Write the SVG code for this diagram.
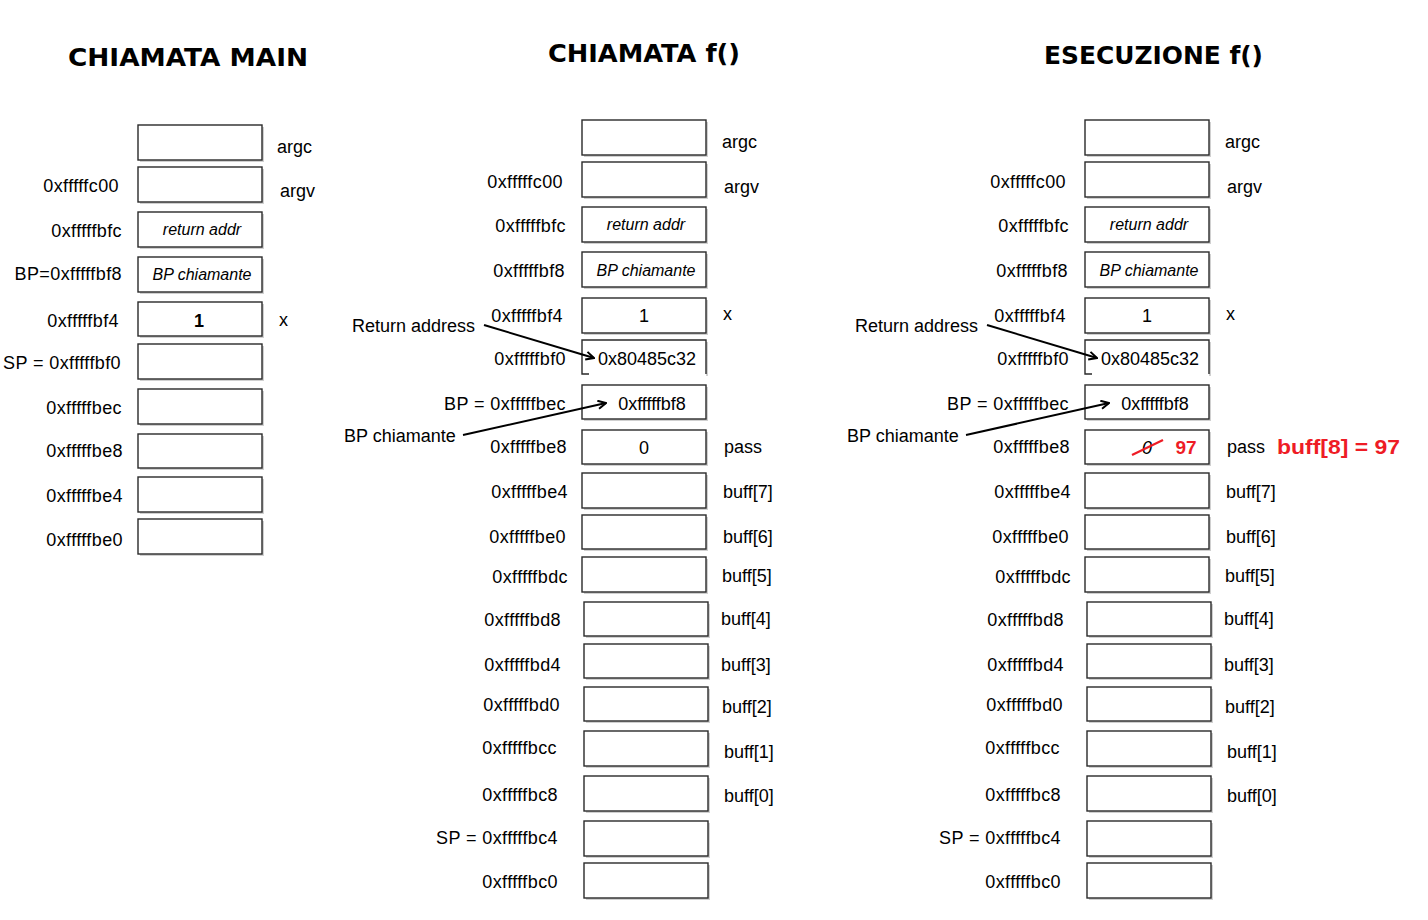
<svg xmlns="http://www.w3.org/2000/svg" width="1428" height="920" viewBox="0 0 1428 920">
<style>
text{font-family:"Liberation Sans",Arial,sans-serif;fill:#000}
.t{font-family:"DejaVu Sans","Liberation Sans",sans-serif;font-weight:bold;font-size:24px}
.a{font-size:18px;text-anchor:end;letter-spacing:0.4px}
.n{font-size:18px}
.v{font-size:18px;text-anchor:middle}
.it{font-size:16px;font-style:italic;text-anchor:middle}
.sh{fill:#d0d0d0}
.bx{fill:#fff;stroke:#2a2a2a;stroke-width:1.4}
.red{fill:#ee1c25;font-weight:bold}
.ar{fill:none;stroke:#000;stroke-width:2}
</style>
<defs>
<marker id="ah" viewBox="0 0 10 10" refX="9" refY="5" markerWidth="10" markerHeight="10" markerUnits="userSpaceOnUse" orient="auto">
<path d="M1,1 L9,5 L1,9" fill="none" stroke="#000" stroke-width="2"/>
</marker>
</defs>
<rect width="1428" height="920" fill="#fff"/>

<!-- titles -->
<text class="t" x="68" y="66" textLength="240" lengthAdjust="spacingAndGlyphs">CHIAMATA MAIN</text>
<text class="t" x="548" y="62" textLength="192" lengthAdjust="spacingAndGlyphs">CHIAMATA f()</text>
<text class="t" x="1044" y="64" textLength="219" lengthAdjust="spacingAndGlyphs">ESECUZIONE f()</text>

<!-- LEFT COLUMN: CHIAMATA MAIN -->
<g id="main-argc"><rect class="sh" x="140" y="127" width="124" height="35"/><rect class="bx" x="138" y="125" width="124" height="35"/><text class="n" x="277" y="153">argc</text></g>
<g id="main-argv"><rect class="sh" x="140" y="169" width="124" height="35"/><rect class="bx" x="138" y="167" width="124" height="35"/><text class="a" x="119" y="192">0xfffffc00</text><text class="n" x="280" y="197">argv</text></g>
<g id="main-ret"><rect class="sh" x="140" y="214" width="124" height="35"/><rect class="bx" x="138" y="212" width="124" height="35"/><text class="a" x="122" y="237">0xfffffbfc</text><text class="it" x="202" y="235">return addr</text></g>
<g id="main-bp"><rect class="sh" x="140" y="259" width="124" height="35"/><rect class="bx" x="138" y="257" width="124" height="35"/><text class="a" x="122" y="280">BP=0xfffffbf8</text><text class="it" x="202" y="280">BP chiamante</text></g>
<g id="main-x"><rect class="sh" x="140" y="304" width="124" height="34"/><rect class="bx" x="138" y="302" width="124" height="34"/><text class="a" x="119" y="327">0xfffffbf4</text><text class="v" x="199" y="327" style="font-weight:bold">1</text><text class="n" x="279" y="326">x</text></g>
<g id="main-sp"><rect class="sh" x="140" y="346" width="124" height="35"/><rect class="bx" x="138" y="344" width="124" height="35"/><text class="a" x="121" y="369">SP = 0xfffffbf0</text></g>
<g id="main-bec"><rect class="sh" x="140" y="391" width="124" height="35"/><rect class="bx" x="138" y="389" width="124" height="35"/><text class="a" x="122" y="414">0xfffffbec</text></g>
<g id="main-be8"><rect class="sh" x="140" y="436" width="124" height="34"/><rect class="bx" x="138" y="434" width="124" height="34"/><text class="a" x="123" y="457">0xfffffbe8</text></g>
<g id="main-be4"><rect class="sh" x="140" y="479" width="124" height="35"/><rect class="bx" x="138" y="477" width="124" height="35"/><text class="a" x="123" y="502">0xfffffbe4</text></g>
<g id="main-be0"><rect class="sh" x="140" y="521" width="124" height="35"/><rect class="bx" x="138" y="519" width="124" height="35"/><text class="a" x="123" y="546">0xfffffbe0</text></g>

<!-- MIDDLE COLUMN: CHIAMATA f() -->
<g id="f-argc"><rect class="sh" x="584" y="122" width="124" height="35"/><rect class="bx" x="582" y="120" width="124" height="35"/><text class="n" x="722" y="148">argc</text></g>
<g id="f-argv"><rect class="sh" x="584" y="164" width="124" height="35"/><rect class="bx" x="582" y="162" width="124" height="35"/><text class="a" x="563" y="188">0xfffffc00</text><text class="n" x="724" y="193">argv</text></g>
<g id="f-ret"><rect class="sh" x="584" y="209" width="124" height="35"/><rect class="bx" x="582" y="207" width="124" height="35"/><text class="a" x="566" y="232">0xfffffbfc</text><text class="it" x="646" y="230">return addr</text></g>
<g id="f-bp"><rect class="sh" x="584" y="254" width="124" height="35"/><rect class="bx" x="582" y="252" width="124" height="35"/><text class="a" x="565" y="277">0xfffffbf8</text><text class="it" x="646" y="276">BP chiamante</text></g>
<g id="f-x"><rect class="sh" x="584" y="300" width="124" height="35"/><rect class="bx" x="582" y="298" width="124" height="35"/><text class="a" x="563" y="322">0xfffffbf4</text><text class="v" x="644" y="322">1</text><text class="n" x="723" y="320">x</text></g>
<g id="f-ra"><rect class="sh" x="706" y="342" width="2" height="34"/><path d="M589,374 H582 V340 H706 V374" fill="none" stroke="#2a2a2a" stroke-width="1.4"/><text class="a" x="566" y="365">0xfffffbf0</text><text class="v" x="647" y="365">0x80485c32</text></g>
<g id="f-bec"><rect class="sh" x="584" y="387" width="124" height="34"/><rect class="bx" x="582" y="385" width="124" height="34"/><text class="a" x="566" y="410">BP = 0xfffffbec</text><text class="v" x="652" y="410">0xfffffbf8</text></g>
<g id="f-be8"><rect class="sh" x="584" y="432" width="124" height="34"/><rect class="bx" x="582" y="430" width="124" height="34"/><text class="a" x="567" y="453">0xfffffbe8</text><text class="v" x="644" y="454">0</text><text class="n" x="724" y="453">pass</text></g>
<g id="f-be4"><rect class="sh" x="584" y="475" width="124" height="35"/><rect class="bx" x="582" y="473" width="124" height="35"/><text class="a" x="568" y="498">0xfffffbe4</text><text class="n" x="723" y="498">buff[7]</text></g>
<g id="f-be0"><rect class="sh" x="584" y="517" width="124" height="34"/><rect class="bx" x="582" y="515" width="124" height="34"/><text class="a" x="566" y="543">0xfffffbe0</text><text class="n" x="723" y="543">buff[6]</text></g>
<g id="f-bdc"><rect class="sh" x="584" y="559" width="124" height="35"/><rect class="bx" x="582" y="557" width="124" height="35"/><text class="a" x="568" y="583">0xfffffbdc</text><text class="n" x="722" y="582">buff[5]</text></g>
<g id="f-bd8"><rect class="sh" x="586" y="604" width="124" height="34"/><rect class="bx" x="584" y="602" width="124" height="34"/><text class="a" x="561" y="626">0xfffffbd8</text><text class="n" x="721" y="625">buff[4]</text></g>
<g id="f-bd4"><rect class="sh" x="586" y="646" width="124" height="34"/><rect class="bx" x="584" y="644" width="124" height="34"/><text class="a" x="561" y="671">0xfffffbd4</text><text class="n" x="721" y="671">buff[3]</text></g>
<g id="f-bd0"><rect class="sh" x="586" y="689" width="124" height="34"/><rect class="bx" x="584" y="687" width="124" height="34"/><text class="a" x="560" y="711">0xfffffbd0</text><text class="n" x="722" y="713">buff[2]</text></g>
<g id="f-bcc"><rect class="sh" x="586" y="733" width="124" height="35"/><rect class="bx" x="584" y="731" width="124" height="35"/><text class="a" x="557" y="754">0xfffffbcc</text><text class="n" x="724" y="758">buff[1]</text></g>
<g id="f-bc8"><rect class="sh" x="586" y="778" width="124" height="35"/><rect class="bx" x="584" y="776" width="124" height="35"/><text class="a" x="558" y="801">0xfffffbc8</text><text class="n" x="724" y="802">buff[0]</text></g>
<g id="f-bc4"><rect class="sh" x="586" y="823" width="124" height="35"/><rect class="bx" x="584" y="821" width="124" height="35"/><text class="a" x="558" y="844">SP = 0xfffffbc4</text></g>
<g id="f-bc0"><rect class="sh" x="586" y="865" width="124" height="35"/><rect class="bx" x="584" y="863" width="124" height="35"/><text class="a" x="558" y="888">0xfffffbc0</text></g>
<g id="f-notes"><text class="n" x="352" y="332">Return address</text><text class="n" x="344" y="442">BP chiamante</text></g>

<!-- RIGHT COLUMN: ESECUZIONE f() -->
<g id="e-argc"><rect class="sh" x="1087" y="122" width="124" height="35"/><rect class="bx" x="1085" y="120" width="124" height="35"/><text class="n" x="1225" y="148">argc</text></g>
<g id="e-argv"><rect class="sh" x="1087" y="164" width="124" height="35"/><rect class="bx" x="1085" y="162" width="124" height="35"/><text class="a" x="1066" y="188">0xfffffc00</text><text class="n" x="1227" y="193">argv</text></g>
<g id="e-ret"><rect class="sh" x="1087" y="209" width="124" height="35"/><rect class="bx" x="1085" y="207" width="124" height="35"/><text class="a" x="1069" y="232">0xfffffbfc</text><text class="it" x="1149" y="230">return addr</text></g>
<g id="e-bp"><rect class="sh" x="1087" y="254" width="124" height="35"/><rect class="bx" x="1085" y="252" width="124" height="35"/><text class="a" x="1068" y="277">0xfffffbf8</text><text class="it" x="1149" y="276">BP chiamante</text></g>
<g id="e-x"><rect class="sh" x="1087" y="300" width="124" height="35"/><rect class="bx" x="1085" y="298" width="124" height="35"/><text class="a" x="1066" y="322">0xfffffbf4</text><text class="v" x="1147" y="322">1</text><text class="n" x="1226" y="320">x</text></g>
<g id="e-ra"><rect class="sh" x="1209" y="342" width="2" height="34"/><path d="M1092,374 H1085 V340 H1209 V374" fill="none" stroke="#2a2a2a" stroke-width="1.4"/><text class="a" x="1069" y="365">0xfffffbf0</text><text class="v" x="1150" y="365">0x80485c32</text></g>
<g id="e-bec"><rect class="sh" x="1087" y="387" width="124" height="34"/><rect class="bx" x="1085" y="385" width="124" height="34"/><text class="a" x="1069" y="410">BP = 0xfffffbec</text><text class="v" x="1155" y="410">0xfffffbf8</text></g>
<g id="e-be8"><rect class="sh" x="1087" y="432" width="124" height="34"/><rect class="bx" x="1085" y="430" width="124" height="34"/><text class="a" x="1070" y="453">0xfffffbe8</text><text class="v" x="1147" y="454" style="font-style:italic">0</text><line x1="1132" y1="455" x2="1163" y2="440" stroke="#ee1c25" stroke-width="2.2"/><text class="v red" x="1186" y="454" style="font-size:19px">97</text><text class="n" x="1227" y="453">pass</text><text class="red" x="1277" y="454" style="font-size:21px" textLength="123" lengthAdjust="spacingAndGlyphs">buff[8] = 97</text></g>
<g id="e-be4"><rect class="sh" x="1087" y="475" width="124" height="35"/><rect class="bx" x="1085" y="473" width="124" height="35"/><text class="a" x="1071" y="498">0xfffffbe4</text><text class="n" x="1226" y="498">buff[7]</text></g>
<g id="e-be0"><rect class="sh" x="1087" y="517" width="124" height="34"/><rect class="bx" x="1085" y="515" width="124" height="34"/><text class="a" x="1069" y="543">0xfffffbe0</text><text class="n" x="1226" y="543">buff[6]</text></g>
<g id="e-bdc"><rect class="sh" x="1087" y="559" width="124" height="35"/><rect class="bx" x="1085" y="557" width="124" height="35"/><text class="a" x="1071" y="583">0xfffffbdc</text><text class="n" x="1225" y="582">buff[5]</text></g>
<g id="e-bd8"><rect class="sh" x="1089" y="604" width="124" height="34"/><rect class="bx" x="1087" y="602" width="124" height="34"/><text class="a" x="1064" y="626">0xfffffbd8</text><text class="n" x="1224" y="625">buff[4]</text></g>
<g id="e-bd4"><rect class="sh" x="1089" y="646" width="124" height="34"/><rect class="bx" x="1087" y="644" width="124" height="34"/><text class="a" x="1064" y="671">0xfffffbd4</text><text class="n" x="1224" y="671">buff[3]</text></g>
<g id="e-bd0"><rect class="sh" x="1089" y="689" width="124" height="34"/><rect class="bx" x="1087" y="687" width="124" height="34"/><text class="a" x="1063" y="711">0xfffffbd0</text><text class="n" x="1225" y="713">buff[2]</text></g>
<g id="e-bcc"><rect class="sh" x="1089" y="733" width="124" height="35"/><rect class="bx" x="1087" y="731" width="124" height="35"/><text class="a" x="1060" y="754">0xfffffbcc</text><text class="n" x="1227" y="758">buff[1]</text></g>
<g id="e-bc8"><rect class="sh" x="1089" y="778" width="124" height="35"/><rect class="bx" x="1087" y="776" width="124" height="35"/><text class="a" x="1061" y="801">0xfffffbc8</text><text class="n" x="1227" y="802">buff[0]</text></g>
<g id="e-bc4"><rect class="sh" x="1089" y="823" width="124" height="35"/><rect class="bx" x="1087" y="821" width="124" height="35"/><text class="a" x="1061" y="844">SP = 0xfffffbc4</text></g>
<g id="e-bc0"><rect class="sh" x="1089" y="865" width="124" height="35"/><rect class="bx" x="1087" y="863" width="124" height="35"/><text class="a" x="1061" y="888">0xfffffbc0</text></g>
<g id="e-notes"><text class="n" x="855" y="332">Return address</text><text class="n" x="847" y="442">BP chiamante</text></g>

<!-- connectors -->
<g id="connectors">
<line class="ar" x1="484" y1="325" x2="594" y2="358" marker-end="url(#ah)"/>
<line class="ar" x1="463" y1="435" x2="606" y2="403" marker-end="url(#ah)"/>
<line class="ar" x1="987" y1="325" x2="1097" y2="358" marker-end="url(#ah)"/>
<line class="ar" x1="966" y1="435" x2="1109" y2="403" marker-end="url(#ah)"/>
</g>
</svg>
